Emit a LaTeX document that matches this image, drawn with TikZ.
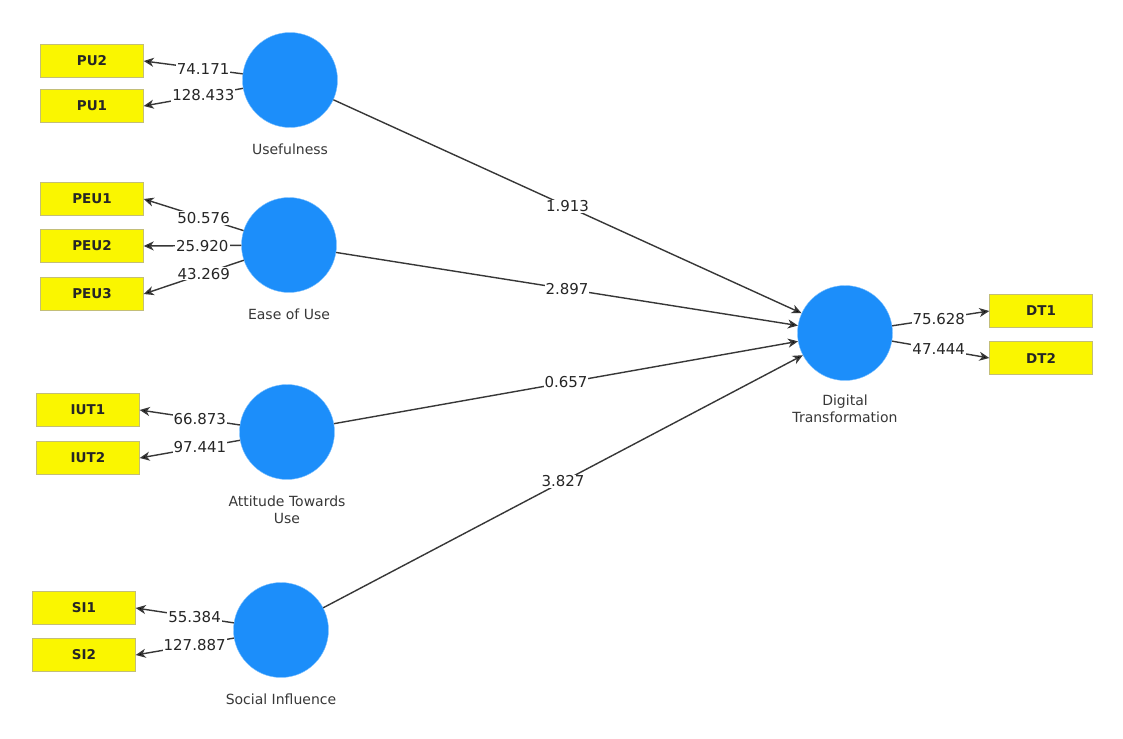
\documentclass[tikz,border=0pt]{standalone}
\usepackage{fontspec}
\setmainfont{DejaVu Sans}
\usetikzlibrary{positioning,arrows.meta}
\definecolor{lvblue}{RGB}{28,142,250}
\definecolor{lvedge}{RGB}{130,195,255}
\definecolor{indyellow}{RGB}{250,246,0}
\definecolor{indedge}{RGB}{195,190,120}
\definecolor{pathgray}{RGB}{55,55,55}
\tikzset{
  latent/.style ={circle, fill=lvblue, draw=lvedge, minimum size=95pt, inner sep=0pt},
  ind/.style    ={rectangle, fill=indyellow, draw=indedge, minimum width=103pt, minimum height=33pt,
                  font=\fontsize{13.5}{15}\selectfont\bfseries, text=black!85},
  lvname/.style ={font=\fontsize{14}{17}\selectfont, text=black!78, align=center},
  coef/.style   ={font=\fontsize{15}{17}\selectfont, text=black!85, fill=white, inner sep=1pt},
  load/.style   ={-{Stealth[length=10pt,width=9pt,inset=3pt,fill=black]}, draw=pathgray, line width=1.4pt},
}
\begin{document}
\begin{tikzpicture}[x=1pt, y=-1pt]
\useasboundingbox[fill=white] (0,0) rectangle (1123,738);
% latent variables
\node[latent] (pu)  at (290,80)  {};
\node[latent] (peu) at (289,245) {};
\node[latent] (iut) at (287,432) {};
\node[latent] (si)  at (281,630) {};
\node[latent] (dt)  at (845,333) {};
\node[lvname, below=13pt of pu]  {Usefulness};
\node[lvname, below=13pt of peu] {Ease of Use};
\node[lvname, below=13pt of iut] {Attitude Towards\\Use};
\node[lvname, below=11pt of dt]  {Digital\\Transformation};
\node[lvname, below=13pt of si]  {Social Influence};
% indicators
\foreach \n/\t/\x/\y in {pu2/PU2/92/61, pu1/PU1/92/106,
    peu1/PEU1/92/199, peu2/PEU2/92/246, peu3/PEU3/92/294,
    iut1/IUT1/88/410, iut2/IUT2/88/458,
    si1/SI1/84/608, si2/SI2/84/655,
    dt1/DT1/1041/311, dt2/DT2/1041/358}
  \node[ind] (\n) at (\x,\y) {\t};
% outer loadings
\foreach \a/\b/\v in {pu/pu2/74.171, pu/pu1/128.433,
    peu/peu1/50.576, peu/peu2/25.920, peu/peu3/43.269,
    iut/iut1/66.873, iut/iut2/97.441,
    si/si1/55.384, si/si2/127.887}
  \draw[load] (\a) -- node[coef, pos=0.4] {\v} (\b.east);
\draw[load] (dt) -- node[coef, pos=0.48] {75.628} (dt1.west);
\draw[load] (dt) -- node[coef, pos=0.48] {47.444} (dt2.west);
% structural paths
\foreach \a/\v in {pu/1.913, peu/2.897, iut/0.657, si/3.827}
  \draw[load] (\a) -- node[coef] {\v} (dt);
\end{tikzpicture}
\end{document}
